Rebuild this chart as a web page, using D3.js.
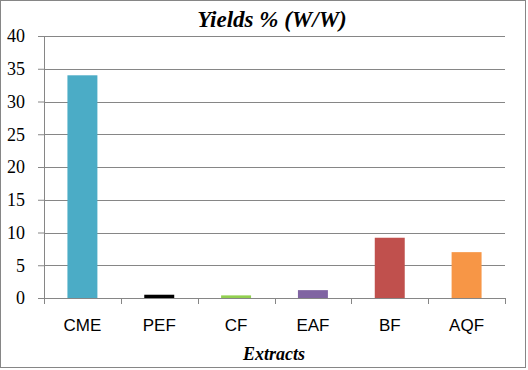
<!DOCTYPE html>
<html>
<head>
<meta charset="utf-8">
<script src="https://cdn.jsdelivr.net/npm/d3@7"></script>
<style>
body { margin: 0; background: #fff; }
</style>
</head>
<body>
<script>
const categories = ['CME', 'PEF', 'CF', 'EAF', 'BF', 'AQF'];
const yields = [34, 0.5, 0.4, 1.2, 9.2, 7.0];
const colors = ['#4bacc6', '#000000', '#92d050', '#8064a2', '#c0504d', '#f79646'];
const yTicks = [0, 5, 10, 15, 20, 25, 30, 35, 40];

const W = 528, H = 370;
const margin = {top: 36, bottom: 72, left: 44, right: 23};
const width = W - margin.left - margin.right;
const height = H - margin.top - margin.bottom;

const svg = d3.select('body').append('svg')
  .attr('width', W)
  .attr('height', H);

// outer border
svg.append('rect')
  .attr('x', 0.5).attr('y', 0.5)
  .attr('width', W - 3).attr('height', H - 3)
  .attr('fill', '#fff')
  .attr('stroke', '#868686');

const g = svg.append('g')
  .attr('transform', `translate(${margin.left},${margin.top})`);

const x = d3.scaleBand().domain(categories).range([0, width]).paddingInner(0.61).paddingOuter(0.305);
const y = d3.scaleLinear().domain([0, 40]).range([height, 0]);

// gridlines
g.selectAll('line.grid').data(yTicks.slice(1)).join('line')
  .attr('class', 'grid')
  .attr('x1', 0).attr('x2', width)
  .attr('y1', d => Math.round(y(d)) + 0.5).attr('y2', d => Math.round(y(d)) + 0.5)
  .attr('stroke', '#868686');

// bars
g.selectAll('rect.bar').data(yields).join('rect')
  .attr('class', 'bar')
  .attr('x', (d, i) => x(categories[i]))
  .attr('width', x.bandwidth())
  .attr('y', d => y(d))
  .attr('height', d => height - y(d))
  .attr('fill', (d, i) => colors[i]);

// y axis
const yAxis = g.append('g')
  .call(d3.axisLeft(y).tickValues(yTicks).tickSize(6).tickPadding(13));
yAxis.select('.domain').attr('stroke', '#868686').attr('d', `M0.5,${height}V0`);
yAxis.selectAll('.tick line').attr('stroke', '#868686');
yAxis.selectAll('.tick text')
  .attr('fill', '#000')
  .style('font-family', '"Liberation Serif", "Times New Roman", serif')
  .style('font-size', '18px');

// x axis with ticks at category boundaries
const xAxis = g.append('g').attr('transform', `translate(0,${height})`);
xAxis.append('line')
  .attr('x1', 0).attr('x2', width)
  .attr('y1', 0.5).attr('y2', 0.5)
  .attr('stroke', '#868686');
const step = x.step();
xAxis.selectAll('line.tk').data(d3.range(categories.length + 1)).join('line')
  .attr('class', 'tk')
  .attr('x1', i => Math.round(i * step) + 0.5).attr('x2', i => Math.round(i * step) + 0.5)
  .attr('y1', 0).attr('y2', 6)
  .attr('stroke', '#868686');
xAxis.selectAll('text').data(categories).join('text')
  .attr('x', d => x(d) + x.bandwidth() / 2)
  .attr('y', 33)
  .attr('text-anchor', 'middle')
  .style('font-family', '"Liberation Sans", Arial, sans-serif')
  .style('font-size', '17px')
  .text(d => d);

// title
svg.append('text')
  .attr('x', 272).attr('y', 27)
  .attr('text-anchor', 'middle')
  .style('font-family', '"Liberation Serif", "Times New Roman", serif')
  .style('font-weight', 'bold').style('font-style', 'italic')
  .style('font-size', '23px')
  .text('Yields % (W/W)');

// x axis title
svg.append('text')
  .attr('x', 274).attr('y', 360)
  .attr('text-anchor', 'middle')
  .style('font-family', '"Liberation Serif", "Times New Roman", serif')
  .style('font-weight', 'bold').style('font-style', 'italic')
  .style('font-size', '18px')
  .text('Extracts');
</script>
</body>
</html>
